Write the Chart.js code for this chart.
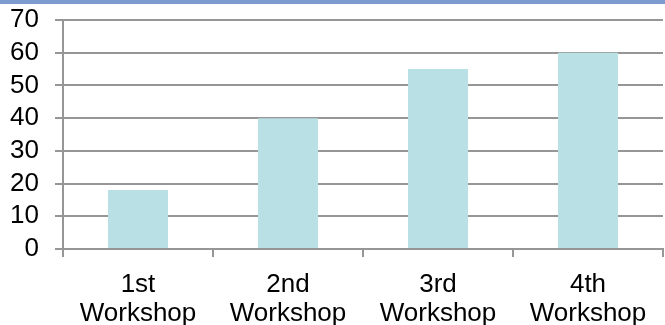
<!DOCTYPE html>
<html>
<head>
<meta charset="utf-8">
<script src="https://cdn.jsdelivr.net/npm/chart.js@4"></script>
<style>
  html, body { margin: 0; padding: 0; background: #fff; }
  #band { position: absolute; left: 0; top: 0; width: 665px; height: 4px; background: #7e9bcf; }
  #wrap { position: absolute; left: 0; top: 0; width: 665px; height: 325px; }
</style>
</head>
<body>
<div id="wrap"><canvas id="chart" width="665" height="325"></canvas></div>
<div id="band"></div>
<script>
const categories = [["1st", "Workshop"], ["2nd", "Workshop"], ["3rd", "Workshop"], ["4th", "Workshop"]];
const values = [18, 40, 55, 60];
const yTicks = [0, 10, 20, 30, 40, 50, 60, 70];

const gridColor = "#969696";
const font = { family: "Liberation Sans, Arial, sans-serif", size: 26, lineHeight: 1.12 };

const ctx = document.getElementById("chart").getContext("2d");
new Chart(ctx, {
  type: "bar",
  data: {
    labels: categories,
    datasets: [{
      data: values,
      backgroundColor: "#b9e0e4",
      borderWidth: 0,
      categoryPercentage: 0.4,
      barPercentage: 1
    }]
  },
  options: {
    responsive: false,
    animation: false,
    layout: { padding: { top: 20, right: 2, left: 0, bottom: 0 } },
    plugins: { legend: { display: false }, tooltip: { enabled: false } },
    scales: {
      x: {
        grid: { offset: true, drawOnChartArea: false, color: gridColor, lineWidth: 2, tickLength: 8 },
        border: { color: gridColor, width: 2 },
        ticks: { color: "#000", font: font, padding: 13, maxRotation: 0, autoSkip: false },
        afterFit: s => { s.height = 76; s.paddingLeft = 0; s.paddingRight = 0; }
      },
      y: {
        min: 0,
        max: 70,
        afterBuildTicks: s => { s.ticks = yTicks.map(v => ({ value: v })); },
        grid: { color: gridColor, lineWidth: 2, tickLength: 8 },
        border: { color: gridColor, width: 2 },
        ticks: { color: "#000", font: font, padding: 16, autoSkip: false },
        afterFit: s => { s.width = 63; s.paddingTop = 0; s.paddingBottom = 0; }
      }
    }
  }
});
</script>
</body>
</html>
